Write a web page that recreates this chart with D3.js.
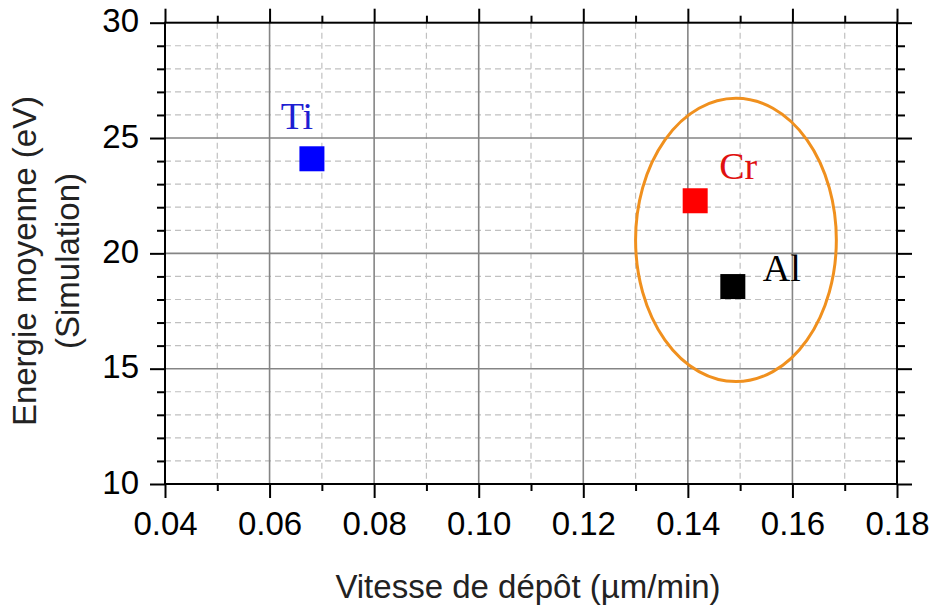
<!DOCTYPE html>
<html>
<head>
<meta charset="utf-8">
<script src="https://cdn.jsdelivr.net/npm/d3@7"></script>
<style>
  html, body { margin: 0; padding: 0; background: #fff; }
  svg { display: block; }
</style>
</head>
<body>
<svg id="chart" width="935" height="610"></svg>
<script>
// ---- data ---------------------------------------------------------------
var elements = ["Ti", "Cr", "Al"];
var depositionRate = [0.0681, 0.1414, 0.1486];   // µm/min
var meanEnergy = [24.1, 22.28, 18.56];           // eV
var pointColors = ["#0000ff", "#ff0000", "#000000"];
var labelColors = ["#1e1ed2", "#e01010", "#000000"];

var xTicks = [0.04, 0.06, 0.08, 0.10, 0.12, 0.14, 0.16, 0.18];
var yTicks = [10, 15, 20, 25, 30];

// highlight ellipse around Cr / Al (in data units)
var ellipse = { cx: 0.1492, cy: 20.58, rx: 0.0192, ry: 6.14 };

// label offsets from the marker centre, in pixels
var labelOffset = { Ti: [-15, -30], Cr: [43, -22], Al: [49, -6] };

// ---- layout -------------------------------------------------------------
var svg = d3.select("#chart");
var plotLeft = 165, plotRight = 897, plotTop = 22.7, plotBottom = 484;

var x = d3.scaleLinear().domain([0.04, 0.18]).range([plotLeft, plotRight]);
var y = d3.scaleLinear().domain([10, 30]).range([plotBottom, plotTop]);

var minorX = d3.range(0.05, 0.18, 0.02).map(function(v) { return +v.toFixed(2); });
var minorY = d3.range(10, 31, 1).filter(function(v) { return v % 5 !== 0; });

// ---- grid ---------------------------------------------------------------
var grid = svg.append("g");

grid.selectAll(".minor-x").data(minorX).enter().append("line")
    .attr("x1", function(d) { return x(d); }).attr("x2", function(d) { return x(d); })
    .attr("y1", plotTop).attr("y2", plotBottom)
    .attr("stroke", "#c0c0c0").attr("stroke-width", 1.2).attr("stroke-dasharray", "6,4");

grid.selectAll(".minor-y").data(minorY).enter().append("line")
    .attr("x1", plotLeft).attr("x2", plotRight)
    .attr("y1", function(d) { return y(d); }).attr("y2", function(d) { return y(d); })
    .attr("stroke", "#c0c0c0").attr("stroke-width", 1.2).attr("stroke-dasharray", "6,4");

grid.selectAll(".major-x").data(xTicks.slice(1, -1)).enter().append("line")
    .attr("x1", function(d) { return x(d); }).attr("x2", function(d) { return x(d); })
    .attr("y1", plotTop).attr("y2", plotBottom)
    .attr("stroke", "#858585").attr("stroke-width", 1.6);

grid.selectAll(".major-y").data(yTicks.slice(1, -1)).enter().append("line")
    .attr("x1", plotLeft).attr("x2", plotRight)
    .attr("y1", function(d) { return y(d); }).attr("y2", function(d) { return y(d); })
    .attr("stroke", "#858585").attr("stroke-width", 1.6);

// ---- axes (ticks outward on all four sides) ----------------------------
function styleAxis(g) {
    g.select(".domain").remove();
    g.selectAll("line").attr("stroke", "#000").attr("stroke-width", 2);
}

var fmtX = d3.format(".2f");

svg.append("g").attr("transform", "translate(0," + plotBottom + ")")
    .call(d3.axisBottom(x).tickValues(xTicks).tickSize(14).tickFormat(fmtX))
    .call(styleAxis)
    .call(function(g) {
        g.selectAll("text").attr("font-family", "Liberation Sans, Arial, sans-serif")
            .attr("font-size", 33).attr("fill", "#000").attr("dy", null).attr("y", 51);
    });
svg.append("g").attr("transform", "translate(0," + plotBottom + ")")
    .call(d3.axisBottom(x).tickValues(minorX).tickSize(7).tickFormat(""))
    .call(styleAxis);

svg.append("g").attr("transform", "translate(0," + plotTop + ")")
    .call(d3.axisTop(x).tickValues(xTicks).tickSize(14).tickFormat(""))
    .call(styleAxis);
svg.append("g").attr("transform", "translate(0," + plotTop + ")")
    .call(d3.axisTop(x).tickValues(minorX).tickSize(7).tickFormat(""))
    .call(styleAxis);

svg.append("g").attr("transform", "translate(" + plotLeft + ",0)")
    .call(d3.axisLeft(y).tickValues(yTicks).tickSize(15).tickFormat(d3.format("d")))
    .call(styleAxis)
    .call(function(g) {
        g.selectAll("text").attr("font-family", "Liberation Sans, Arial, sans-serif")
            .attr("font-size", 33).attr("fill", "#000").attr("dy", null).attr("y", 9).attr("x", -26);
    });
svg.append("g").attr("transform", "translate(" + plotLeft + ",0)")
    .call(d3.axisLeft(y).tickValues(minorY).tickSize(8).tickFormat(""))
    .call(styleAxis);

svg.append("g").attr("transform", "translate(" + plotRight + ",0)")
    .call(d3.axisRight(y).tickValues(yTicks).tickSize(15).tickFormat(""))
    .call(styleAxis);
svg.append("g").attr("transform", "translate(" + plotRight + ",0)")
    .call(d3.axisRight(y).tickValues(minorY).tickSize(8).tickFormat(""))
    .call(styleAxis);

// frame
svg.append("rect")
    .attr("x", plotLeft).attr("y", plotTop)
    .attr("width", plotRight - plotLeft).attr("height", plotBottom - plotTop)
    .attr("fill", "none").attr("stroke", "#000").attr("stroke-width", 2);

// ---- highlight ellipse --------------------------------------------------
svg.append("ellipse")
    .attr("cx", x(ellipse.cx)).attr("cy", y(ellipse.cy))
    .attr("rx", x(ellipse.cx + ellipse.rx) - x(ellipse.cx))
    .attr("ry", y(ellipse.cy) - y(ellipse.cy + ellipse.ry))
    .attr("fill", "none").attr("stroke", "#f0901e").attr("stroke-width", 3);

// ---- markers & labels ---------------------------------------------------
var pts = elements.map(function(name, i) {
    return { name: name, x: depositionRate[i], y: meanEnergy[i], color: pointColors[i], label: labelColors[i] };
});

var size = 25;
svg.selectAll(".pt").data(pts).enter().append("rect")
    .attr("x", function(d) { return x(d.x) - size / 2; })
    .attr("y", function(d) { return y(d.y) - size / 2; })
    .attr("width", size).attr("height", size)
    .attr("fill", function(d) { return d.color; });

svg.selectAll(".pt-label").data(pts).enter().append("text")
    .attr("x", function(d) { return x(d.x) + labelOffset[d.name][0]; })
    .attr("y", function(d) { return y(d.y) + labelOffset[d.name][1]; })
    .attr("text-anchor", "middle")
    .attr("font-family", "Liberation Serif, Times New Roman, serif")
    .attr("font-size", 38)
    .attr("fill", function(d) { return d.label; })
    .text(function(d) { return d.name; });

// ---- axis titles --------------------------------------------------------
svg.append("text")
    .attr("x", 528).attr("y", 598)
    .attr("text-anchor", "middle")
    .attr("font-family", "Liberation Sans, Arial, sans-serif")
    .attr("font-size", 33)
    .attr("fill", "#222")
    .text("Vitesse de dépôt (µm/min)");

var yTitle = svg.append("text")
    .attr("transform", "translate(36,261) rotate(-90)")
    .attr("text-anchor", "middle")
    .attr("font-family", "Liberation Sans, Arial, sans-serif")
    .attr("font-size", 33)
    .attr("fill", "#222");
yTitle.append("tspan").attr("x", 0).attr("y", 0).text("Energie moyenne (eV)");
yTitle.append("tspan").attr("x", 0).attr("y", 43).text("(Simulation)");
</script>
</body>
</html>
